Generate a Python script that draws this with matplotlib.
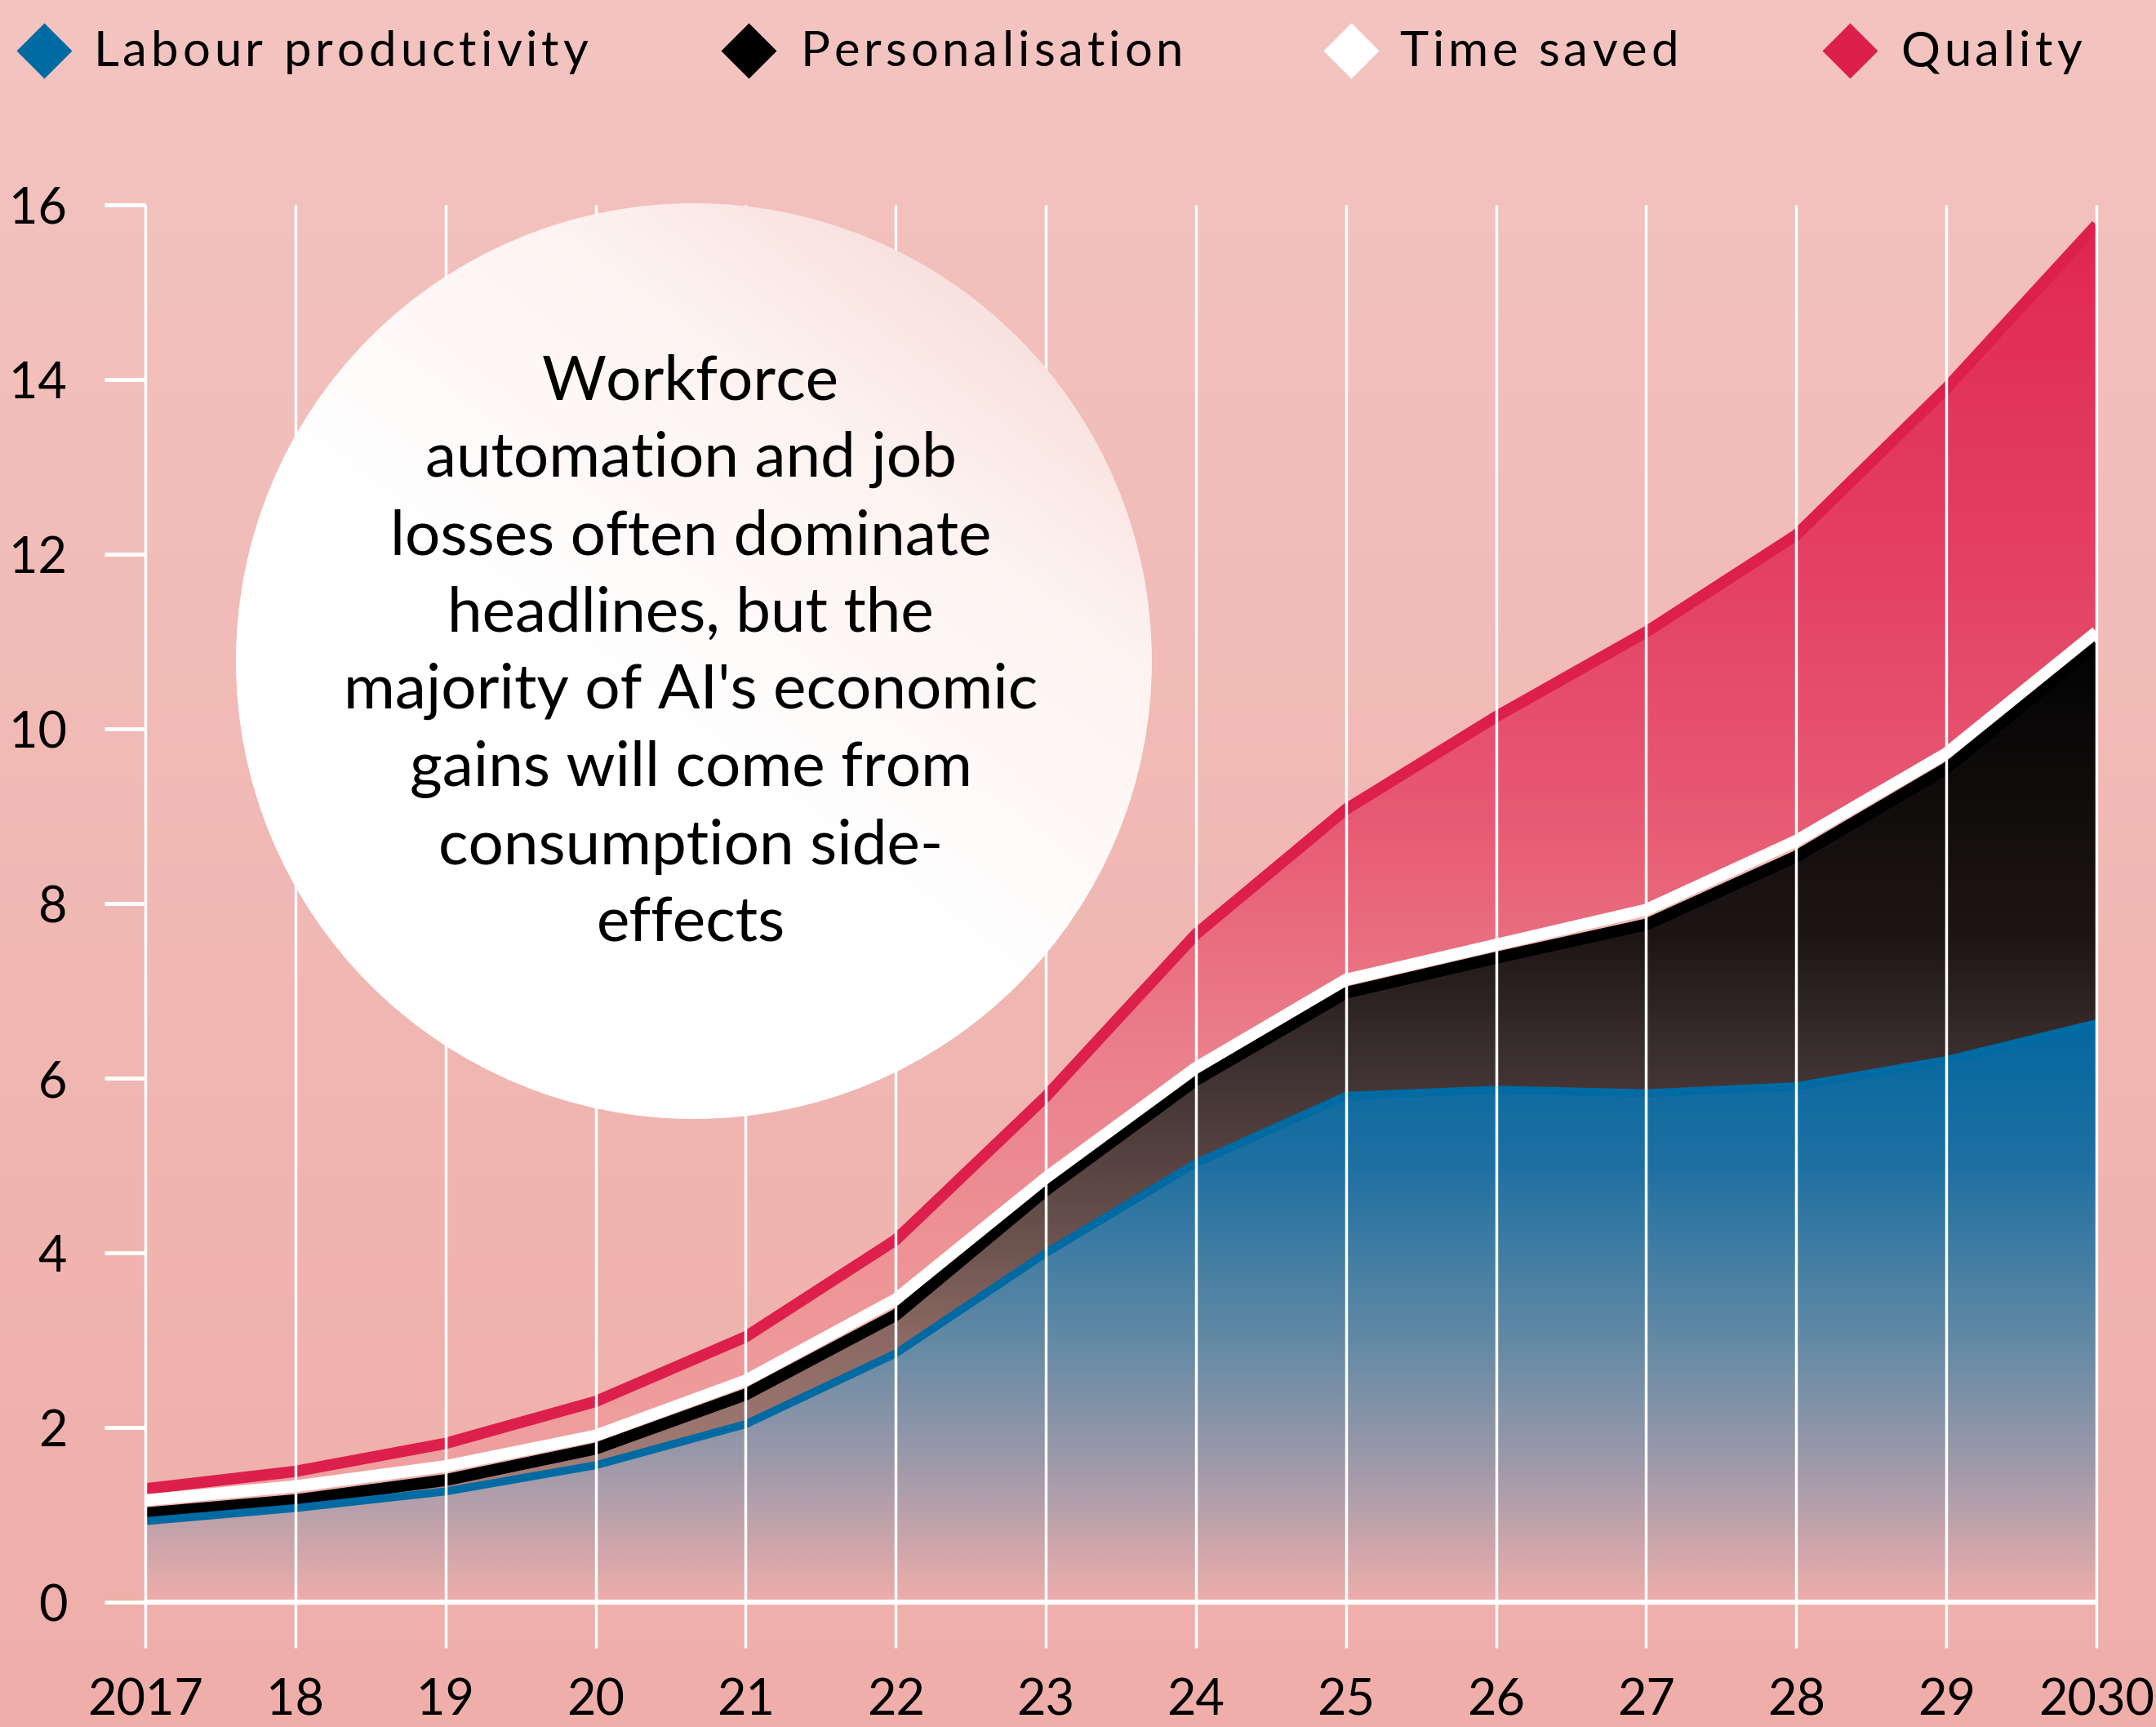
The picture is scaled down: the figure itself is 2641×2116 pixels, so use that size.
import numpy as np
import matplotlib
matplotlib.use("Agg")
from matplotlib import pyplot as plt
from matplotlib.colors import LinearSegmentedColormap
from matplotlib.patches import Circle
from matplotlib.font_manager import FontProperties

FONT = ["Lato", "DejaVu Sans"]

years = [2017, 2018, 2019, 2020, 2021, 2022, 2023, 2024, 2025, 2026, 2027, 2028, 2029, 2030]
year_labels = ["2017", "18", "19", "20", "21", "22", "23", "24", "25", "26", "27", "28", "29", "2030"]

labour = [0.93, 1.08, 1.27, 1.57, 2.04, 2.85, 4.00, 5.03, 5.80, 5.87, 5.83, 5.91, 6.21, 6.63]
personalisation = [0.09, 0.09, 0.13, 0.19, 0.34, 0.44, 0.72, 0.95, 1.18, 1.51, 1.93, 2.63, 3.34, 4.34]
time_saved = [0.15, 0.16, 0.16, 0.15, 0.16, 0.18, 0.14, 0.14, 0.15, 0.15, 0.17, 0.18, 0.17, 0.14]
quality = [0.13, 0.17, 0.26, 0.39, 0.50, 0.68, 0.93, 1.53, 1.95, 2.61, 3.18, 3.50, 4.18, 4.66]

series_names = ["Labour productivity", "Personalisation", "Time saved", "Quality"]
series_colors = ["#006aa3", "#000000", "#ffffff", "#dd1f4c"]

yticks = [0, 2, 4, 6, 8, 10, 12, 14, 16]

note = ("Workforce\nautomation and job\nlosses often dominate\nheadlines, but the\n"
        "majority of AI's economic\ngains will come from\nconsumption side-\neffects")

W, H = 2641, 2116
fig = plt.figure(figsize=(W / 100, H / 100), dpi=100)
renderer = fig.canvas.get_renderer()

# background gradient, also used as a pixel canvas for the legend
bg = fig.add_axes([0, 0, 1, 1], zorder=-1)
bg_cmap = LinearSegmentedColormap.from_list("bg", ["#f3c4c0", "#efaea9"])
bg.imshow(np.linspace(0, 1, 256).reshape(-1, 1), cmap=bg_cmap, aspect="auto",
          extent=(0, W, H, 0))
bg.set_xlim(0, W)
bg.set_ylim(H, 0)
bg.axis("off")


def tracked_text(x, y, s, size, track):
    # letter-spaced text, placed char by char in pixel coords
    prop = FontProperties(family=FONT, size=size)
    for i, ch in enumerate(s):
        if ch == " ":
            continue
        w = renderer.get_text_width_height_descent(s[:i], prop, ismath=False)[0] if i else 0
        bg.text(x + w + i * track, y, ch, fontproperties=prop, va="center", ha="left",
                color="black")


# legend
leg_marker_x = [54, 917, 1655, 2266]
leg_text_x = [114, 980, 1714, 2328]
for mx, tx, name, col in zip(leg_marker_x, leg_text_x, series_names, series_colors):
    bg.plot([mx], [62], marker="D", ms=35, color=col, mec="none", ls="none")
    tracked_text(tx, 64, name, 43, 5.0)

# main chart
x0, x1 = 178, 2568
ytop, ybot = 251, 2019
ax = fig.add_axes([x0 / W, 1 - ybot / H, (x1 - x0) / W, (ybot - ytop) / H])
ax.set_facecolor("none")
ax.set_xlim(2017, 2030)
ax.set_ylim(-0.52, 16)

x = np.array(years, dtype=float)
c1 = np.array(labour)
c2 = c1 + np.array(personalisation)
c3 = c2 + np.array(time_saved)
c4 = c3 + np.array(quality)


def gradient_fill(lower, upper, stops, ylo, yhi, z):
    poly = ax.fill_between(x, lower, upper, facecolor="none", edgecolor="none", zorder=z)
    cmap = LinearSegmentedColormap.from_list("g", stops)
    im = ax.imshow(np.linspace(1, 0, 256).reshape(-1, 1), cmap=cmap, aspect="auto",
                   extent=(2017, 2030, ylo, yhi), zorder=z, interpolation="bilinear")
    im.set_clip_path(poly.get_paths()[0], transform=ax.transData)


def rgb(r, g, b):
    return (r / 255, g / 255, b / 255)


blue_stops = [(0, rgb(238, 174, 170)), (0.23, rgb(160, 154, 170)), (0.45, rgb(100, 138, 165)),
              (0.76, rgb(30, 112, 162)), (1, rgb(5, 104, 160))]
black_stops = [(0, rgb(170, 130, 125)), (0.2, rgb(140, 105, 100)), (0.3, rgb(110, 85, 80)),
               (0.48, rgb(70, 55, 55)), (0.66, rgb(30, 22, 22)), (1, rgb(3, 3, 3))]
red_stops = [(0, rgb(240, 162, 162)), (0.19, rgb(238, 148, 150)), (0.35, rgb(235, 128, 140)),
             (0.53, rgb(232, 90, 115)), (0.72, rgb(228, 65, 100)), (0.94, rgb(225, 45, 85)),
             (1, rgb(222, 32, 78))]

gradient_fill(np.zeros_like(c1), c1, blue_stops, 0, 6.6, 2)
gradient_fill(c1, c2, black_stops, 1, 11, 2)
gradient_fill(c3, c4, red_stops, 1, 16, 2)

line_kw = dict(solid_joinstyle="miter", solid_capstyle="butt", zorder=3)
ax.plot(x, c4, color=series_colors[3], lw=10, **line_kw)
ax.plot(x, c2, color=series_colors[1], lw=10.5, **line_kw)
ax.plot(x, c3, color=series_colors[2], lw=10.5, **line_kw)
ax.plot(x, c1, color=series_colors[0], lw=7, **line_kw)

ax.vlines(years, -0.52, 16, color="white", lw=2.5, zorder=6, clip_on=False)
ax.hlines(0, 2017, 2030, color="white", lw=4.5, zorder=6, clip_on=False)

for s in ax.spines.values():
    s.set_visible(False)

ax.set_yticks(yticks)
ax.set_yticklabels([str(v) for v in yticks], fontsize=44, family=FONT)
ax.tick_params(axis="y", length=36, width=3.5, color="white", pad=33)
ax.set_xticks(years)
ax.set_xticklabels(year_labels, fontsize=44, family=FONT)
ax.tick_params(axis="x", length=0, pad=26)

# annotation bubble
cx, cy, r = 850, 810, 561
cax = fig.add_axes([(cx - r) / W, 1 - (cy + r) / H, 2 * r / W, 2 * r / H], zorder=5)
cax.set_xlim(0, 1)
cax.set_ylim(0, 1)
cax.axis("off")
gx, gy = np.meshgrid(np.linspace(0, 1, 300), np.linspace(0, 1, 300))
t = np.clip((gx * 0.6 + gy * 0.8 - 0.62) / 0.75, 0, 1)
circ_cmap = LinearSegmentedColormap.from_list("c", ["#ffffff", "#fdf3f1", "#f5d3cf"])
circ_im = cax.imshow(t, cmap=circ_cmap, origin="lower", extent=(0, 1, 0, 1), aspect="auto")
circle = Circle((0.5, 0.5), 0.5, transform=cax.transData)
circ_im.set_clip_path(circle)

fig.text(846 / W, 1 - 800 / H, note, fontsize=55, family=FONT,
         ha="center", va="center", multialignment="center", linespacing=1.45, zorder=10)

fig.savefig("out.png", dpi=100)
